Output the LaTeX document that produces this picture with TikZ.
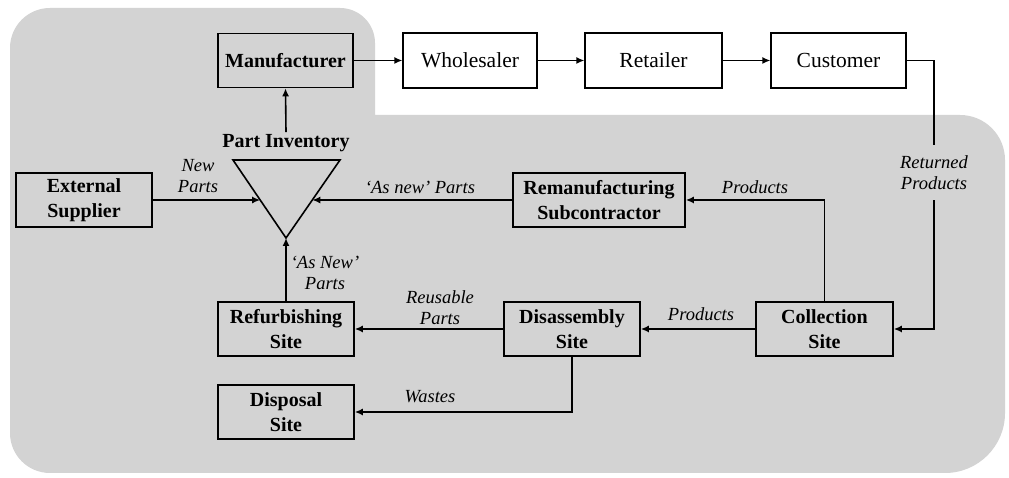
\documentclass[tikz,border=0pt]{standalone}
\usepackage{fontspec}
\setmainfont{Liberation Serif}
\usetikzlibrary{arrows.meta,calc}
\definecolor{bggray}{RGB}{211,211,211}
\begin{document}
\begin{tikzpicture}[x=1pt,y=1pt,
  gbox/.style={draw=black,line width=1.6pt,fill=bggray,minimum height=54pt,inner sep=0pt,align=center,font=\fontsize{20}{25}\selectfont\bfseries},
  wbox/.style={draw=black,line width=1.2pt,fill=white,minimum height=55pt,inner sep=0pt,align=center,font=\fontsize{21.5}{25}\selectfont},
  lbl/.style={font=\fontsize{18.5}{21}\selectfont\itshape,align=center,inner sep=1pt},
  conn/.style={line width=1.6pt,-{Latex[length=8pt,width=7pt]}}]
\useasboundingbox (0,0) rectangle (1009,478);
\fill[white] (0,0) rectangle (1009,478);
% gray region
\fill[bggray] (10,45) -- (10,430) arc[start angle=180,end angle=90,radius=40]
  -- (340,470) arc[start angle=90,end angle=0,radius=35]
  -- (375,363) -- (960,363) arc[start angle=90,end angle=0,radius=45]
  -- (1005,65) arc[start angle=0,end angle=-90,radius=60]
  -- (50,5) arc[start angle=270,end angle=180,radius=40] -- cycle;
% boxes
\node[gbox,minimum width=135pt] (man) at (285.5,417.5) {Manufacturer};
\node[wbox,minimum width=134pt] (whs) at (470,417.5) {Wholesaler};
\node[wbox,minimum width=137pt] (ret) at (653.5,417.5) {Retailer};
\node[wbox,minimum width=135pt] (cus) at (838.5,417.5) {Customer};
\node[gbox,minimum width=136pt] (ext) at (84,278) {External\\Supplier};
\node[gbox,minimum width=172pt] (rem) at (599,278) {Remanufacturing\\Subcontractor};
\node[gbox,minimum width=136pt] (ref) at (286,149) {Refurbishing\\Site};
\node[gbox,minimum width=136pt] (dis) at (572,149) {Disassembly\\Site};
\node[gbox,minimum width=137pt] (col) at (824.5,149) {Collection\\Site};
\node[gbox,minimum width=136pt] (dsp) at (286,66) {Disposal\\Site};
% part inventory triangle
\coordinate (tl) at (233,318);
\coordinate (tr) at (340,318);
\coordinate (ta) at (286,240);
\draw[line width=1.6pt,line join=miter] (tl) -- (tr) -- (ta) -- cycle;
\node[font=\fontsize{20}{24}\selectfont\bfseries,inner sep=2pt] (pinv) at (286,335) {Part Inventory};
% connectors
\draw[conn] (pinv.north) -- (man.south);
\draw[conn] (man.east) -- (whs.west);
\draw[conn] (whs.east) -- (ret.west);
\draw[conn] (ret.east) -- (cus.west);
\coordinate (rtop) at (934,417.5);
\coordinate (rbot) at (934,149);
\draw[conn] (cus.east) -- (rtop) -- (rbot) -- (col.east);
\node[lbl,fill=bggray,minimum height=55pt] (retl) at (934,305) {Returned\\Products};
\draw[conn] (ext.east) -- ($(tl)!0.513!(ta)$);
\draw[conn] (rem.west) -- ($(tr)!0.513!(ta)$);
\draw[conn] (ref.north) -- (ta);
\draw[conn] (col.north) |- (rem.east);
\draw[conn] (col.west) -- (dis.east);
\draw[conn] (dis.west) -- (ref.east);
\draw[conn] (dis.south) |- (dsp.east);
% labels
\node[lbl] (lnew) at (198,302) {New\\Parts};
\node[lbl] (lasnew) at (420,291) {`As new' Parts};
\node[lbl] (lprod1) at (755,291) {Products};
\node[lbl] (lasnew2) at (325,205) {`As New'\\Parts};
\node[lbl] (lreuse) at (440,170) {Reusable\\Parts};
\node[lbl] (lprod2) at (701,164) {Products};
\node[lbl] (lwaste) at (430,81) {Wastes};
\end{tikzpicture}
\end{document}
